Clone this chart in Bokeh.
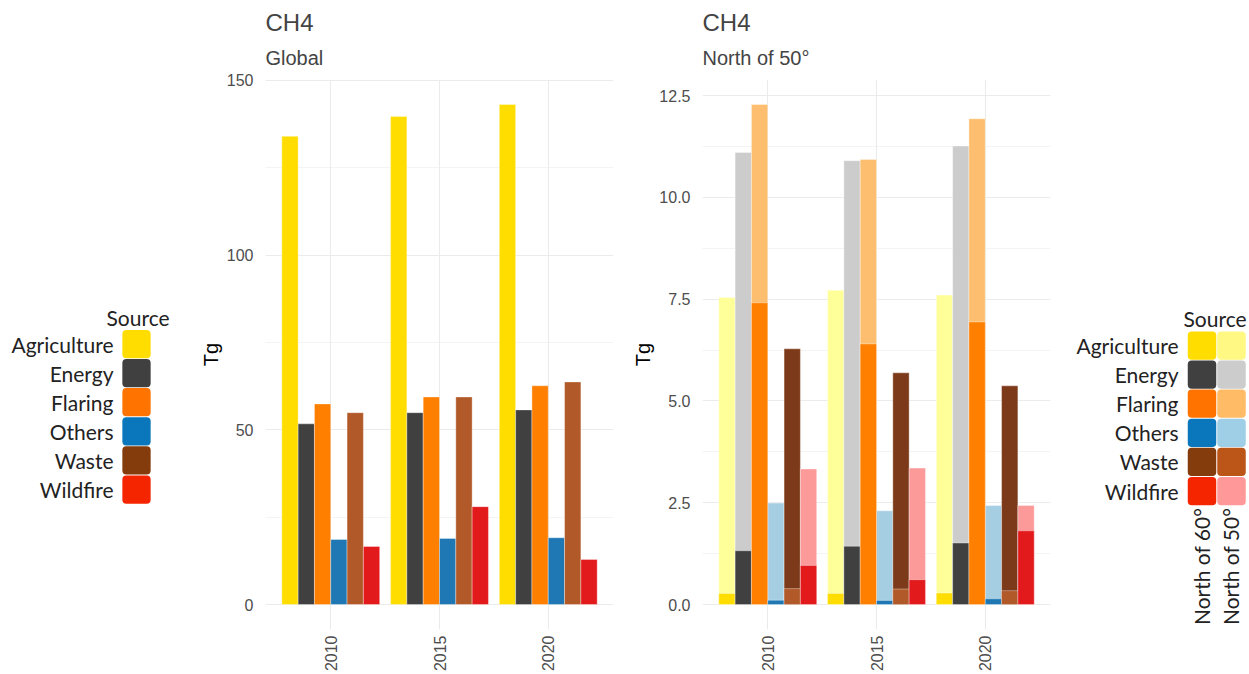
import numpy as np
from bokeh.plotting import figure
from bokeh.layouts import row
from bokeh.models import Range1d, FixedTicker, Title, ColumnDataSource, NumeralTickFormatter
from bokeh.core.properties import value
from bokeh.embed import file_html
from bokeh.resources import INLINE

# ---------------- data ----------------
years = ["2010", "2015", "2020"]
sources = ["Agriculture", "Energy", "Flaring", "Others", "Waste", "Wildfire"]

# Global emissions (Tg), one list per source, values per year
global_agriculture = [134.0, 139.7, 143.1]
global_energy = [51.7, 54.9, 55.7]
global_flaring = [57.4, 59.4, 62.6]
global_others = [18.6, 18.9, 19.1]
global_waste = [54.9, 59.4, 63.7]
global_wildfire = [16.6, 28.0, 12.9]

# North of 50 degrees (Tg)
n50_agriculture = [7.54, 7.72, 7.60]
n50_energy = [11.10, 10.90, 11.26]
n50_flaring = [12.28, 10.93, 11.93]
n50_others = [2.49, 2.30, 2.43]
n50_waste = [6.28, 5.69, 5.37]
n50_wildfire = [3.33, 3.35, 2.43]

# North of 60 degrees (Tg)
n60_agriculture = [0.27, 0.27, 0.28]
n60_energy = [1.32, 1.43, 1.51]
n60_flaring = [7.41, 6.40, 6.94]
n60_others = [0.105, 0.10, 0.14]
n60_waste = [0.39, 0.38, 0.34]
n60_wildfire = [0.96, 0.61, 1.81]

left_ticks = [0, 50, 100, 150]
left_minor = [25, 75, 125]
right_ticks = [0, 2.5, 5.0, 7.5, 10.0, 12.5]
right_minor = [1.25, 3.75, 6.25, 8.75, 11.25]

region_labels = ["North of 60°", "North of 50°"]
legend_title = "Source"
main_title = "CH4"
subtitles = ["Global", "North of 50°"]
y_label = "Tg"

# ---------------- styles ----------------
global_colors = ["#FFDD00", "#404040", "#FF7F00", "#1F78B4", "#B15928", "#E31A1C"]
n60_colors = ["#FFDD00", "#404040", "#FF7F00", "#1F78B4", "#B15928", "#E31A1C"]
n50_colors = ["#FFFF99", "#CCCCCC", "#FDBF6F", "#A6CEE3", "#7D3A1A", "#FB9A99"]
legend_dark = ["#FFDD00", "#404040", "#FF7300", "#0A77BD", "#843C0C", "#F52500"]
legend_light = ["#FFF882", "#CCCCCC", "#FFBB66", "#9ECFE6", "#BB5518", "#FF9999"]

global_vals = [global_agriculture, global_energy, global_flaring, global_others, global_waste, global_wildfire]
n50_vals = [n50_agriculture, n50_energy, n50_flaring, n50_others, n50_waste, n50_wildfire]
n60_vals = [n60_agriculture, n60_energy, n60_flaring, n60_others, n60_waste, n60_wildfire]

H = 674
TOP = 79          # frame top (px)
BOTTOM = 630      # frame bottom (px)
GRID = "#EBEBEB"
TXT = "#4D4D4D"
FONT = "Liberation Sans"
LFONT = "Lato"
LCOL = "#222222"
DODGE = 0.9
NS = len(sources)
BW = DODGE / NS


def bar_source(vals, colors):
    xs, tops, cols = [], [], []
    for i, series in enumerate(vals):
        for k, v in enumerate(series):
            xs.append((k + 1) - DODGE / 2 + BW / 2 + BW * i)
            tops.append(v)
            cols.append(colors[i])
    return ColumnDataSource(dict(x=xs, top=tops, color=cols))


def panel(width, mb_left, mb_right, subtitle, ymax, ticks, minor, fmt):
    lo, hi = -0.05 * ymax, ymax + 0.05 * ymax
    p = figure(width=width, height=H, x_range=Range1d(0.4, 3.6), y_range=Range1d(lo, hi),
               output_backend="svg", toolbar_location=None, title=None,
               min_border_left=mb_left, min_border_right=mb_right,
               min_border_top=TOP, min_border_bottom=H - BOTTOM)
    p.add_layout(Title(text=subtitle, text_font_size="20px", text_font=FONT,
                       text_font_style="normal", align="left", standoff=22), "above")
    p.add_layout(Title(text=main_title, text_font_size="24px", text_font=FONT,
                       text_font_style="normal", align="left", standoff=-4), "above")
    p.outline_line_color = None
    p.xaxis.ticker = FixedTicker(ticks=[1, 2, 3])
    p.xaxis.major_label_overrides = {k + 1: y for k, y in enumerate(years)}
    p.xaxis.major_label_orientation = np.pi / 2
    p.xaxis.major_label_standoff = 0
    p.yaxis.ticker = FixedTicker(ticks=ticks, minor_ticks=minor)
    if fmt:
        p.yaxis.formatter = NumeralTickFormatter(format=fmt)
    p.yaxis.major_label_standoff = 6
    p.yaxis.axis_label = y_label
    p.yaxis.axis_label_standoff = 2
    p.yaxis.axis_label_text_font_size = "20px"
    p.yaxis.axis_label_text_font = FONT
    p.yaxis.axis_label_text_font_style = "normal"
    p.yaxis.axis_label_text_color = "black"
    for ax in (p.xaxis, p.yaxis):
        ax.axis_line_color = None
        ax.major_tick_line_color = None
        ax.minor_tick_line_color = None
        ax.major_label_text_font_size = "16px"
        ax.major_label_text_font = FONT
        ax.major_label_text_color = TXT
    p.xgrid.ticker = FixedTicker(ticks=[1, 2, 3])
    p.xgrid.grid_line_color = GRID
    p.xgrid.grid_line_width = 1.1
    p.ygrid.ticker = FixedTicker(ticks=ticks, minor_ticks=minor)
    p.ygrid.grid_line_color = GRID
    p.ygrid.grid_line_width = 1.1
    p.ygrid.minor_grid_line_color = GRID
    p.ygrid.minor_grid_line_width = 0.55
    return p


# left panel: Global
gmax = max(max(s) for s in global_vals)
p1 = panel(432, 75, 9, subtitles[0], gmax, left_ticks, left_minor, None)
p1.vbar(x="x", top="top", bottom=0, width=BW, fill_color="color", line_color="white",
        line_alpha=0.35, line_width=1, source=bar_source(global_vals, global_colors))

# right panel: North of 50
nmax = max(max(s) for s in n50_vals)
p2 = panel(438, 80, 10, subtitles[1], nmax, right_ticks, right_minor, "0.0")
p2.vbar(x="x", top="top", bottom=0, width=BW, fill_color="color", line_color="white",
        line_alpha=0.35, line_width=1, source=bar_source(n50_vals, n50_colors))
p2.vbar(x="x", top="top", bottom=0, width=BW, fill_color="color", line_color="white",
        line_alpha=0.35, line_width=1, source=bar_source(n60_vals, n60_colors))


def legend_fig(width):
    # frame aligned with the plot frames; y data units = page pixels
    f = figure(width=width, height=H, x_range=Range1d(0, width), y_range=Range1d(BOTTOM, TOP),
               output_backend="svg", toolbar_location=None, title=None,
               x_axis_type=None, y_axis_type=None,
               min_border_left=0, min_border_right=0,
               min_border_top=TOP, min_border_bottom=H - BOTTOM)
    f.outline_line_color = None
    f.grid.visible = False
    return f


STEP, SW = 29.15, 28.3
ys1 = [344.0 + STEP * i for i in range(NS)]
ys2 = [345.5 + STEP * i for i in range(NS)]
FS = "21px"

# left legend (x: page px)
lg1 = legend_fig(190)
lg1.text(x=[106], y=[317], text=[legend_title], text_align="left", text_baseline="middle",
         text_font=value(LFONT), text_font_size=FS, text_color=LCOL)
lg1.rect(x=[136] * NS, y=ys1, width=SW, height=SW, fill_color=legend_dark, line_color=None,
         border_radius=4)
lg1.text(x=[113] * NS, y=ys1, text=sources, text_align="right", text_baseline="middle",
         text_font=value(LFONT), text_font_size=FS, text_color=LCOL)

# right legend (x: page px minus 1060)
lg2 = legend_fig(189)
lg2.text(x=[123], y=[318], text=[legend_title], text_align="left", text_baseline="middle",
         text_font=value(LFONT), text_font_size=FS, text_color=LCOL)
lg2.rect(x=[141.5] * NS, y=ys2, width=28.5, height=SW, fill_color=legend_dark, line_color=None,
         border_radius=4)
lg2.rect(x=[171] * NS, y=ys2, width=28.5, height=SW, fill_color=legend_light, line_color=None,
         border_radius=4)
lg2.text(x=[118] * NS, y=ys2, text=sources, text_align="right", text_baseline="middle",
         text_font=value(LFONT), text_font_size=FS, text_color=LCOL)
lg2.text(x=[141, 170], y=[508, 508], text=region_labels, angle=np.pi / 2, text_align="right",
         text_baseline="middle", text_font=value(LFONT), text_font_size=FS, text_color=LCOL)

layout = row(lg1, p1, p2, lg2)
open("out.html", "w").write(file_html(layout, INLINE))
